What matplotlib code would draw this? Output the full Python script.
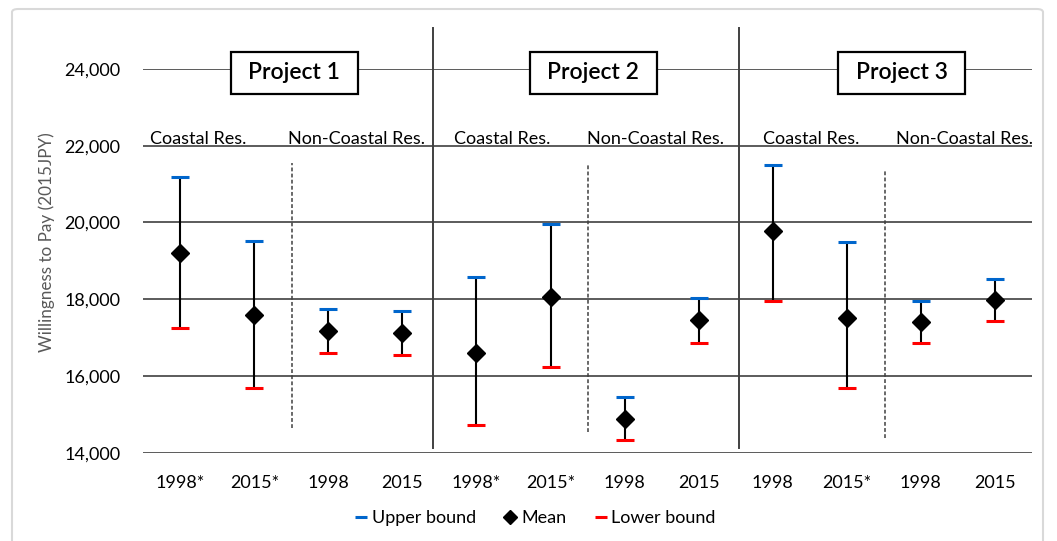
import matplotlib
matplotlib.use("Agg")
import matplotlib.pyplot as plt
from matplotlib.patches import FancyBboxPatch, Rectangle
from matplotlib.lines import Line2D

plt.rcParams['font.family'] = ['Lato', 'DejaVu Sans']

# data (2015 JPY)
years = ["1998*", "2015*", "1998", "2015",
         "1998*", "2015*", "1998", "2015",
         "1998", "2015*", "1998", "2015"]
upper = [21180, 19510, 17750, 17700, 18580, 19950, 15460, 18035, 21500, 19490, 17960, 18530]
mean = [19210, 17590, 17175, 17115, 16610, 18070, 14870, 17450, 19780, 17520, 17400, 17990]
lower = [17250, 15695, 16610, 16540, 14735, 16245, 14320, 16860, 17950, 15680, 16860, 17420]

projects = ["Project 1", "Project 2", "Project 3"]
project_x = [1.536, 5.576, 9.743]
groups = ["Coastal Res.", "Non-Coastal Res."] * 3
group_x = [0.239, 2.383, 4.348, 6.412, 8.519, 10.59]

BLUE = '#0066CC'
RED = '#FF0000'
GRID = '#404040'

fig = plt.figure(figsize=(10.57, 5.41), dpi=100)
ax = fig.add_axes([0.1356, 0.1632, 0.8405, 0.7093])

# outer frame
fig.patches.append(FancyBboxPatch((12 / 1057, -0.05), (1043 - 12) / 1057, 1 - 9 / 541 + 0.05,
                                  boxstyle="round,pad=0,rounding_size=0.006",
                                  transform=fig.transFigure, fill=False,
                                  edgecolor='#d9d9d9', linewidth=1.5))

x = list(range(len(years)))
ax.vlines(x, lower, upper, color='black', linewidth=1.5, zorder=3)
ax.plot(x, upper, linestyle='none', marker='_', markersize=13.4, markeredgewidth=2.2,
        color=BLUE, zorder=4)
ax.plot(x, lower, linestyle='none', marker='_', markersize=13.4, markeredgewidth=2.2,
        color=RED, zorder=4)
ax.plot(x, mean, linestyle='none', marker='D', markersize=9.5, color='black', zorder=5)

ax.set_xlim(-0.5, 11.5)
ax.set_ylim(14000, 24000)
ax.set_yticks(range(14000, 24001, 2000))
ax.set_yticklabels([f"{v:,}" for v in range(14000, 24001, 2000)])
ax.set_xticks(x)
ax.set_xticklabels(years)
ax.tick_params(axis='both', length=0, labelsize=13, colors='#000000')
ax.tick_params(axis='x', pad=16)
ax.tick_params(axis='y', pad=16.5)
ax.grid(axis='y', color=GRID, linewidth=1.2)
ax.set_axisbelow(True)
for s in ax.spines.values():
    s.set_visible(False)
fig.text(46.7 / 1057, 1 - 242 / 541, "Willingness to Pay (2015JPY)", rotation=90,
         ha='center', va='center', fontsize=12.3, color='#595959')

# project separators (solid) and coastal / non-coastal separators (dashed)
for xs in [3.407, 7.547]:
    ax.plot([xs, xs], [14120, 25060], color=GRID, linewidth=1.4, clip_on=False, zorder=2)
for xs, y0, y1 in [(1.51, 14635, 21550), (5.51, 14550, 21505), (9.515, 14390, 21330)]:
    ax.plot([xs, xs], [y0, y1], color=GRID, linewidth=1.1, linestyle=(0, (2.5, 1.5)), zorder=2)

box_w, box_h, box_y = 1.716, 1110, 23896
for name, px in zip(projects, project_x):
    ax.add_patch(Rectangle((px - box_w / 2, box_y - box_h / 2), box_w, box_h,
                           facecolor='white', edgecolor='black', linewidth=1.6,
                           clip_on=False, zorder=6))
    ax.text(px, box_y, name, ha='center', va='center', fontsize=16.5,
            fontweight='semibold', zorder=7)

for name, gx in zip(groups, group_x):
    ax.text(gx, 22055, name, ha='center', va='baseline', fontsize=13, zorder=6)

handles = [
    Line2D([], [], linestyle='none', marker='_', markersize=8, markeredgewidth=2.2, color=BLUE),
    Line2D([], [], linestyle='none', marker='D', markersize=7, color='black'),
    Line2D([], [], linestyle='none', marker='_', markersize=8, markeredgewidth=2.2, color=RED),
]
fig.legend(handles, ["Upper bound", "Mean", "Lower bound"], loc='center',
           bbox_to_anchor=(0.5068, 0.042), ncol=3, frameon=False, fontsize=13,
           handlelength=0.6, handletextpad=0.3, columnspacing=1.6)

fig.savefig("out.png", dpi=100)
